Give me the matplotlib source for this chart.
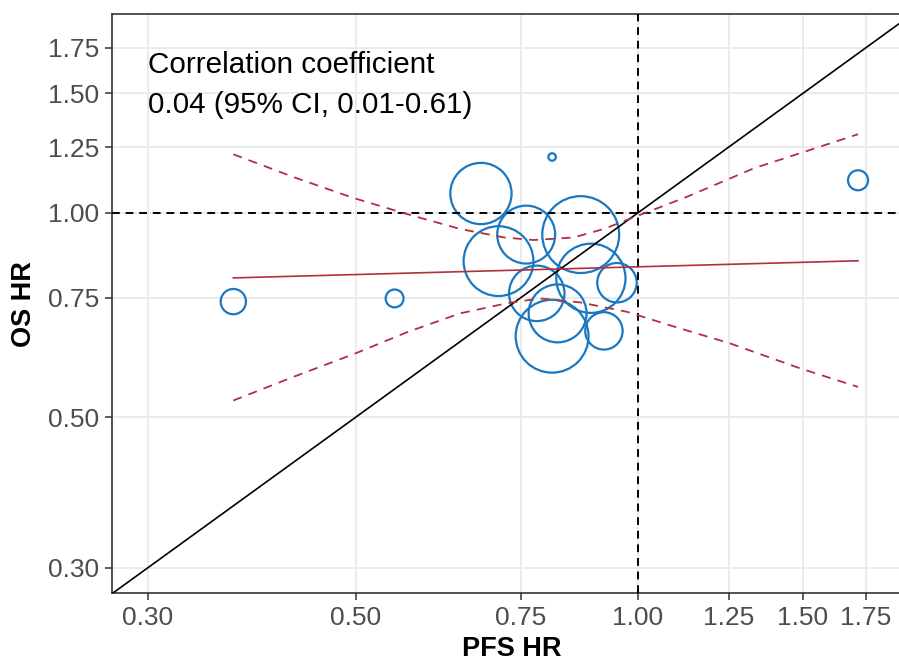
import numpy as np
import matplotlib
matplotlib.use("Agg")
import matplotlib.pyplot as plt
from matplotlib.ticker import FixedLocator, FixedFormatter, NullLocator

plt.rcParams['font.family'] = ['Liberation Sans', 'DejaVu Sans']

# trial-level hazard ratios
pfs_hr = [0.680, 0.810, 0.760, 0.869, 0.710, 0.891, 0.950, 0.780, 0.821, 0.810, 0.920, 0.370, 0.550, 1.718]
os_hr = [1.068, 1.209, 0.929, 0.929, 0.849, 0.801, 0.789, 0.761, 0.711, 0.658, 0.670, 0.740, 0.748, 1.117]
weight = [94, 1.4, 84, 148, 122, 120, 39, 77, 84, 133, 35, 16, 8, 10]

# weighted regression fit and its 95% band
fit_x = [0.370, 1.718]
fit_y = [0.802, 0.850]
band_upper_x = [0.370, 0.430, 0.497, 0.567, 0.646, 0.720, 0.774, 0.854, 0.920, 0.973, 1.128, 1.329, 1.718]
band_upper_y = [1.220, 1.128, 1.052, 0.996, 0.947, 0.920, 0.912, 0.920, 0.947, 0.976, 1.056, 1.163, 1.306]
band_lower_x = [0.370, 0.430, 0.497, 0.567, 0.646, 0.725, 0.786, 0.868, 0.973, 1.100, 1.255, 1.490, 1.718]
band_lower_y = [0.529, 0.574, 0.619, 0.667, 0.711, 0.736, 0.748, 0.738, 0.715, 0.678, 0.642, 0.590, 0.554]

ticks = [0.30, 0.50, 0.75, 1.00, 1.25, 1.50, 1.75]
tick_labels = ['0.30', '0.50', '0.75', '1.00', '1.25', '1.50', '1.75']

blue = '#1A77C2'
red = '#B0303C'

fig = plt.figure(figsize=(8.99, 6.64), dpi=100)
ax = fig.add_axes([112 / 899, 1 - 593.3 / 664, 1 - 112 / 899, (593.3 - 14) / 664])

ax.set_xscale('log')
ax.set_yscale('log')
ax.set_xlim(0.2746, 1.90)
ax.set_ylim(0.275, 1.964)

for axis in (ax.xaxis, ax.yaxis):
    axis.set_major_locator(FixedLocator(ticks))
    axis.set_major_formatter(FixedFormatter(tick_labels))
    axis.set_minor_locator(NullLocator())

ax.grid(True, color='#EBEBEB', linewidth=1.4, zorder=0)
ax.set_axisbelow(True)

ax.plot([0.2, 2.2], [0.2, 2.2], color='black', linewidth=1.2, zorder=4)
ax.axhline(1.0, color='black', linewidth=1.4, linestyle=(0, (4, 3)), zorder=4)
ax.axvline(1.0, color='black', linewidth=1.4, linestyle=(0, (4, 3)), zorder=4)

ax.scatter(pfs_hr, os_hr, s=np.array(weight) * 20.7, facecolors='none',
           edgecolors=blue, linewidths=1.6, zorder=3)

ax.plot(fit_x, fit_y, color=red, linewidth=1.2, zorder=5)
ax.plot(band_upper_x, band_upper_y, color=red, linewidth=1.3, linestyle=(0, (5, 4)), zorder=5)
ax.plot(band_lower_x, band_lower_y, color=red, linewidth=1.3, linestyle=(0, (5, 4)), zorder=5)

ax.text(0.30, 1.73, 'Correlation coefficient\n0.04 (95% CI, 0.01-0.61)', fontsize=21.3,
        va='top', ha='left', linespacing=1.55, color='black')

for side in ['top', 'left', 'bottom']:
    ax.spines[side].set_color('#333333')
    ax.spines[side].set_linewidth(1.2)
ax.spines['right'].set_visible(False)

ax.tick_params(axis='both', which='major', length=5, width=1.1, color='#333333',
               labelcolor='#4D4D4D', labelsize=19)
ax.tick_params(axis='x', pad=4)
ax.tick_params(axis='y', pad=4)

ax.set_xlabel('PFS HR', fontsize=19.5, fontweight='bold')
ax.set_ylabel('OS HR', fontsize=19.5, fontweight='bold')
ax.xaxis.set_label_coords((512 - 112) / 787, -0.096)
ax.yaxis.set_label_coords((24 - 112) / 787, 0.5)
ax.xaxis.label.set_va('center')
ax.yaxis.label.set_va('center')

fig.savefig('out.png', dpi=100)
